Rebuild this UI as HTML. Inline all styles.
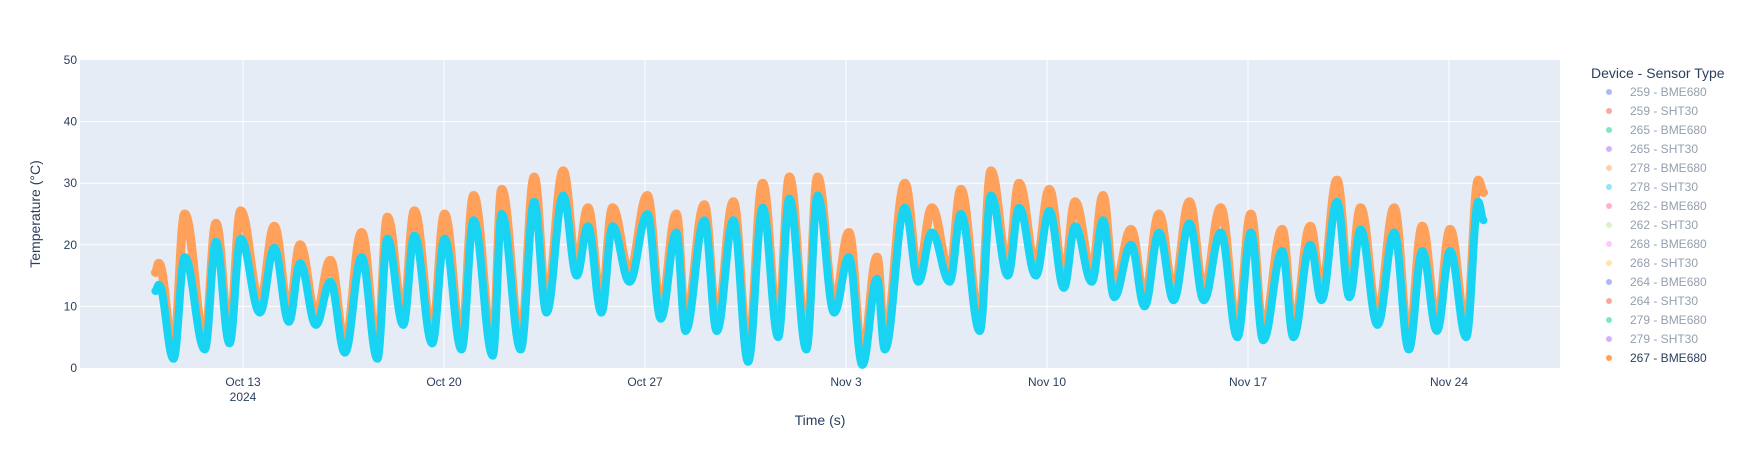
<!DOCTYPE html>
<html><head><meta charset="utf-8"><style>
body{margin:0;background:#fff;font-family:"Liberation Sans",sans-serif;}
svg text{font-family:"Liberation Sans",sans-serif;fill:#2a3f5f;}
</style></head><body>
<svg id="chart" width="1756" height="450" xmlns="http://www.w3.org/2000/svg"></svg>
<script>
// data: days relative to Oct 13 2024
const tickLabels=["Oct 13","Oct 20","Oct 27","Nov 3","Nov 10","Nov 17","Nov 24"];
const tickDays=[0,7,14,21,28,35,42];
const yTicks=[0,10,20,30,40,50];
const peakDays=[-2.93,-2.03,-0.94,-0.08,1.09,1.99,3.04,4.13,5.03,5.97,7.02,8.03,9.01,10.14,11.15,12.01,12.87,14.08,15.09,16.07,17.08,18.1,19.03,20.01,21.1,22.08,23.05,23.99,25.0,26.05,27.03,28.08,28.98,29.95,30.93,31.9,32.96,34.05,35.1,36.19,37.17,38.1,38.92,40.09,41.07,42.04,43.02];
const orangePeaks=[17,25,23.5,25.5,23,20,17.5,22,24.5,25.5,25,28,29,31,32,26,26,28,25,26.5,27,30,31,31,22,18,30,26,29,32,30,29,27,28,22.5,25,27,26,25,22.5,23,30.5,26,26,23,22.5,30.5];
const cyanPeaks=[13.5,18,20.5,21,19.5,17,14,18,21,21.5,21,24,25,27,28,23,23,25,22,24,24,26,27.5,28,18,14.5,26,22,25,28,26,25.5,23,24,20,22,23.5,22,22,19,20,27,22.5,22,19,19,27];
const troughDays=[-2.42,-1.33,-0.47,0.59,1.6,2.54,3.55,4.68,5.58,6.59,7.61,8.7,9.67,10.57,11.62,12.48,13.46,14.55,15.41,16.5,17.59,18.64,19.62,20.59,21.57,22.35,23.52,24.61,25.66,26.64,27.61,28.59,29.56,30.34,31.4,32.41,33.46,34.63,35.53,36.58,37.56,38.53,39.51,40.6,41.58,42.6];
const cyanTroughs=[1.5,3,4,9,7.5,7,2.5,1.5,7,4,3,2,3,9,15,9,14,8,6,6,1,5,3,9,0.5,3,14,14,6,15,15,13,14,11.5,10,11,11,5,4.5,5,11,11.5,7,3,6,5];
const orangeTroughs=[3,4.5,5.5,10.5,9,8.5,4,3,8.5,5.5,4.5,3.5,4.5,10.5,16.5,10.5,15.5,9.5,7.5,7.5,2.5,6.5,4.5,10.5,2,4.5,15.5,15.5,7.5,16.5,16.5,14.5,15.5,13,11.5,12.5,12.5,6.5,6,6.5,12.5,13,8.5,4.5,7.5,6.5];
const startDay=-3.05, orangeStart=15.5, cyanStart=12.5;
const endDay=43.2, orangeEnd=28.5, cyanEnd=24;
const legendNames=["259 - BME680","259 - SHT30","265 - BME680","265 - SHT30","278 - BME680","278 - SHT30","262 - BME680","262 - SHT30","268 - BME680","268 - SHT30","264 - BME680","264 - SHT30","279 - BME680","279 - SHT30","267 - BME680"];
const legendColors=["#636efa","#EF553B","#00cc96","#ab63fa","#FFA15A","#19d3f3","#FF6692","#B6E880","#FF97FF","#FECB52","#636efa","#EF553B","#00cc96","#ab63fa","#FFA15A"];

const NS="http://www.w3.org/2000/svg";
const svg=document.getElementById('chart');
const L=80,R=1560,T=60,B=368;
const dayPx=201/7, day0=243;
const xs=d=>day0+d*dayPx;
const ys=v=>B-(v/50)*(B-T);
function el(tag,attrs,parent){const e=document.createElementNS(NS,tag);for(const k in attrs)e.setAttribute(k,attrs[k]);(parent||svg).appendChild(e);return e;}

const bg=el('rect',{x:L,y:T,width:R-L,height:B-T,fill:'#e5ecf6'});



yTicks.forEach(v=>{
  if(v>0&&v<50){const g=el('line',{x1:L,x2:R,y1:ys(v),y2:ys(v),stroke:'#fff','stroke-width':1});
  
  }
  const t=el('text',{x:L-3,y:ys(v)+4,'text-anchor':'end','font-size':12});
  t.textContent=v;
  
  
});
tickDays.forEach((d,i)=>{
  const g=el('line',{x1:xs(d),x2:xs(d),y1:T,y2:B,stroke:'#fff','stroke-width':1});
  
  
  const t=el('text',{x:xs(d),y:B+18,'text-anchor':'middle','font-size':12});
  t.textContent=tickLabels[i];
  
  
});
const yr=el('text',{x:xs(0),y:B+33,'text-anchor':'middle','font-size':12});
yr.textContent='2024';



function series(peaksV,troughV,sv,ev){
  const pts=[[startDay,sv]];
  peakDays.forEach((d,i)=>pts.push([d,peaksV[i]]));
  troughDays.forEach((d,i)=>pts.push([d,troughV[i]]));
  pts.sort((a,b)=>a[0]-b[0]);
  pts.push([endDay,ev]);
  const P=pts.map(p=>[xs(p[0]),ys(p[1])]);
  let s='M'+P[0][0].toFixed(1)+','+P[0][1].toFixed(1);
  for(let i=1;i<P.length;i++){
    const a=P[i-1],b=P[i],dx=(b[0]-a[0])/2.6;
    s+=` C${(a[0]+dx).toFixed(1)},${a[1].toFixed(1)} ${(b[0]-dx).toFixed(1)},${b[1].toFixed(1)} ${b[0].toFixed(1)},${b[1].toFixed(1)}`;
  }
  return s;
}
const o=el('path',{d:series(orangePeaks,orangeTroughs,orangeStart,orangeEnd),fill:'none',stroke:'#FFA15A','stroke-width':9,'stroke-linejoin':'round','stroke-linecap':'round'});


const c=el('path',{d:series(cyanPeaks,cyanTroughs,cyanStart,cyanEnd),fill:'none',stroke:'#19d3f3','stroke-width':8,'stroke-linejoin':'round','stroke-linecap':'round'});



const xt=el('text',{x:(L+R)/2,y:425,'text-anchor':'middle','font-size':14});
xt.textContent='Time (s)';


const yt=el('text',{x:0,y:0,'text-anchor':'middle','font-size':14,transform:`translate(40,${(T+B)/2}) rotate(-90)`});
yt.textContent='Temperature (°C)';



const lt=el('text',{x:1591,y:78,'font-size':14});
lt.textContent='Device - Sensor Type';


legendNames.forEach((n,i)=>{
  const y=92+i*19;
  const g=el('g',{opacity:i===14?1:0.5});
  
  
  el('circle',{cx:1609,cy:y,r:3,fill:legendColors[i]},g);
  const t=el('text',{x:1630,y:y+4,'font-size':12},g);
  t.textContent=n;
});
</script>
</body></html>
